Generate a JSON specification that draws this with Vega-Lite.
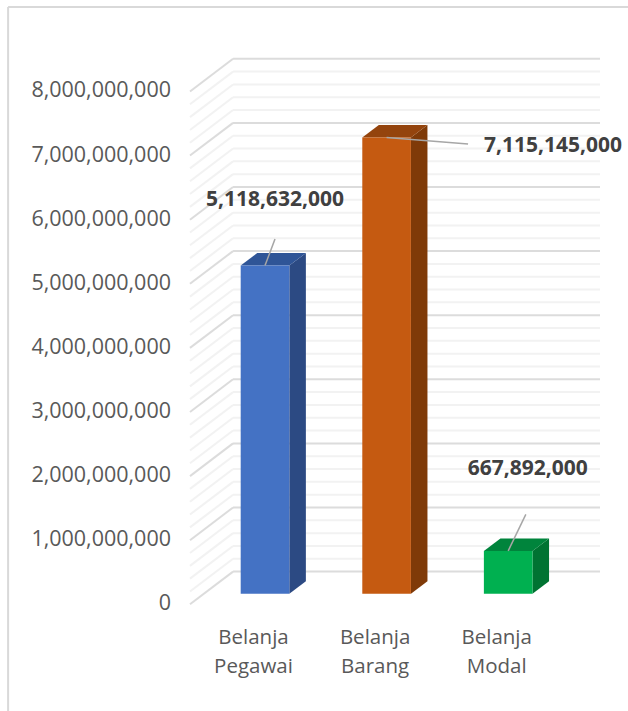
{
"$schema":"https://vega.github.io/schema/vega-lite/v6.json",
"width":410,"height":560,
"autosize":{"type":"none"},
"padding":{"left":190,"top":50,"right":28,"bottom":101},
"background":"white",
"view":{"stroke":null},
"data":{"values":[
{"category":"Belanja Pegawai","value":5118632000},
{"category":"Belanja Barang","value":7115145000},
{"category":"Belanja Modal","value":667892000}
]},
"resolve":{"scale":{"color":"independent"}},
"layer":[
{"data":{"values":[{"edge":"left"}]},"mark":{"type":"rule","color":"#d9d9d9","strokeWidth":2},
 "encoding":{"x":{"datum":-2.113,"type":"quantitative","scale":{"domain":[-0.617,2.755]},"axis":{"values":[0,1,2],"title":null,"domain":false,"ticks":false,"grid":false,"labelFontSize":20.5,"labelFont":"Open Sans","labelColor":"#595959","labelPadding":17,"labelOffset":-12,"labelLineHeight":29,"labelExpr":"datum.value==0?['Belanja','Pegawai']:datum.value==1?['Belanja','Barang']:['Belanja','Modal']"}},
 "y":{"datum":9153000000,"type":"quantitative","scale":{"domain":[-254000000,8482000000]},"axis":{"values":[0,1000000000,2000000000,3000000000,4000000000,5000000000,6000000000,7000000000,8000000000],"title":null,"domain":false,"ticks":false,"grid":false,"labelExpr":"format(datum.value,',')","labelFontSize":21.5,"labelFont":"Open Sans","labelColor":"#595959","labelPadding":19.5,"labelOffset":10}},
 "y2":{"datum":-1830000000}}},
{"data":{"values":[{"edge":"top"}]},"mark":{"type":"rule","color":"#d9d9d9","strokeWidth":2},
 "encoding":{"x":{"datum":-2.113,"type":"quantitative","scale":{"domain":[-0.617,2.755]}},"x2":{"datum":3.0},
 "y":{"datum":9153000000,"type":"quantitative","scale":{"domain":[-254000000,8482000000]}}}},
{"data":{"values":[{"g":0},{"g":200000000},{"g":400000000},{"g":600000000},{"g":800000000},{"g":1000000000},{"g":1200000000},{"g":1400000000},{"g":1600000000},{"g":1800000000},{"g":2000000000},{"g":2200000000},{"g":2400000000},{"g":2600000000},{"g":2800000000},{"g":3000000000},{"g":3200000000},{"g":3400000000},{"g":3600000000},{"g":3800000000},{"g":4000000000},{"g":4200000000},{"g":4400000000},{"g":4600000000},{"g":4800000000},{"g":5000000000},{"g":5200000000},{"g":5400000000},{"g":5600000000},{"g":5800000000},{"g":6000000000},{"g":6200000000},{"g":6400000000},{"g":6600000000},{"g":6800000000},{"g":7000000000},{"g":7200000000},{"g":7400000000},{"g":7600000000},{"g":7800000000},{"g":8000000000}]},
 "transform":[{"calculate":"datum.g+345000000","as":"back"},{"calculate":"datum.g-165000000","as":"front"},{"calculate":"datum.g%1000000000==0","as":"major"}],
 "layer":[
 {"mark":{"type":"rule","strokeWidth":2},
  "encoding":{"x":{"datum":-0.263,"type":"quantitative","scale":{"domain":[-0.617,2.755]}},"x2":{"datum":2.755},
  "y":{"field":"back","type":"quantitative","scale":{"domain":[-254000000,8482000000]}},
  "color":{"condition":{"test":"datum.major","value":"#dcdcdc"},"value":"#f2f2f2"}}},
 {"mark":{"type":"rule","strokeWidth":2},
  "encoding":{"x":{"datum":-0.617,"type":"quantitative","scale":{"domain":[-0.617,2.755]}},"x2":{"datum":-0.263},
  "y":{"field":"front","type":"quantitative","scale":{"domain":[-254000000,8482000000]}},"y2":{"field":"back"},
  "color":{"condition":{"test":"datum.major","value":"#dcdcdc"},"value":"#f2f2f2"}}}
 ]},
{"transform":[{"calculate":"indexof(['Belanja Pegawai','Belanja Barang','Belanja Modal'],datum.category)","as":"i"},{"calculate":"datum.i-0.2","as":"x0"},{"calculate":"datum.i+0.2","as":"x1"},{"calculate":"[0,1]","as":"d"},{"flatten":["d"]},{"calculate":"datum.x1+0.136*datum.d","as":"sx"},{"calculate":"195000000*datum.d","as":"sy0"},{"calculate":"datum.value+195000000*datum.d","as":"sy1"}],
 "mark":{"type":"area"},
 "encoding":{"x":{"field":"sx","type":"quantitative","scale":{"domain":[-0.617,2.755]}},
 "y":{"field":"sy1","type":"quantitative","scale":{"domain":[-254000000,8482000000]}},"y2":{"field":"sy0"},
 "color":{"field":"category","type":"nominal","legend":null,"scale":{"domain":["Belanja Pegawai","Belanja Barang","Belanja Modal"],"range":["#2c4a83","#7f3a08","#007332"]}}}},
{"transform":[{"calculate":"indexof(['Belanja Pegawai','Belanja Barang','Belanja Modal'],datum.category)","as":"i"},{"calculate":"[0,1]","as":"d"},{"flatten":["d"]},{"calculate":"datum.i-0.2+0.136*datum.d","as":"tx0"},{"calculate":"datum.i+0.2+0.136*datum.d","as":"tx1"},{"calculate":"datum.value+195000000*datum.d","as":"ty"}],
 "mark":{"type":"area","orient":"horizontal"},
 "encoding":{"y":{"field":"ty","type":"quantitative","scale":{"domain":[-254000000,8482000000]}},
 "x":{"field":"tx0","type":"quantitative","scale":{"domain":[-0.617,2.755]}},"x2":{"field":"tx1"},
 "color":{"field":"category","type":"nominal","legend":null,"scale":{"domain":["Belanja Pegawai","Belanja Barang","Belanja Modal"],"range":["#2f5597","#94440d","#00843c"]}}}},
{"transform":[{"calculate":"indexof(['Belanja Pegawai','Belanja Barang','Belanja Modal'],datum.category)","as":"i"},{"calculate":"datum.i-0.2","as":"x0"},{"calculate":"datum.i+0.2","as":"x1"}],
 "mark":{"type":"rect"},
 "encoding":{"x":{"field":"x0","type":"quantitative","scale":{"domain":[-0.617,2.755]}},"x2":{"field":"x1"},
 "y":{"field":"value","type":"quantitative","scale":{"domain":[-254000000,8482000000]}},"y2":{"datum":0},
 "color":{"field":"category","type":"nominal","legend":null,"scale":{"domain":["Belanja Pegawai","Belanja Barang","Belanja Modal"],"range":["#4472c4","#c55a11","#00b050"]}}}},
{"transform":[{"calculate":"indexof(['Belanja Pegawai','Belanja Barang','Belanja Modal'],datum.category)","as":"i"},{"calculate":"datum.i+[0.082,0.67,0.145][datum.i]","as":"lx"},{"calculate":"datum.value+[416000000,-98000000,570000000][datum.i]","as":"ly"}],
 "mark":{"type":"rule","color":"#a6a6a6","strokeWidth":1.5},
 "encoding":{"x":{"field":"i","type":"quantitative","scale":{"domain":[-0.617,2.755]}},"x2":{"field":"lx"},
 "y":{"field":"value","type":"quantitative","scale":{"domain":[-254000000,8482000000]}},"y2":{"field":"ly"}}},
{"transform":[{"calculate":"indexof(['Belanja Pegawai','Belanja Barang','Belanja Modal'],datum.category)","as":"i"},{"calculate":"datum.i+[0.082,1.369,0.161][datum.i]","as":"tx"},{"calculate":"datum.value+[1025000000,-130000000,1275000000][datum.i]","as":"ty"}],
 "mark":{"type":"text","font":"Open Sans","fontWeight":"bold","fontSize":21,"color":"#404040","baseline":"middle","align":"center"},
 "encoding":{"x":{"field":"tx","type":"quantitative","scale":{"domain":[-0.617,2.755]}},
 "y":{"field":"ty","type":"quantitative","scale":{"domain":[-254000000,8482000000]}},
 "text":{"field":"value","type":"quantitative","format":",.0f"}}}
]
}
